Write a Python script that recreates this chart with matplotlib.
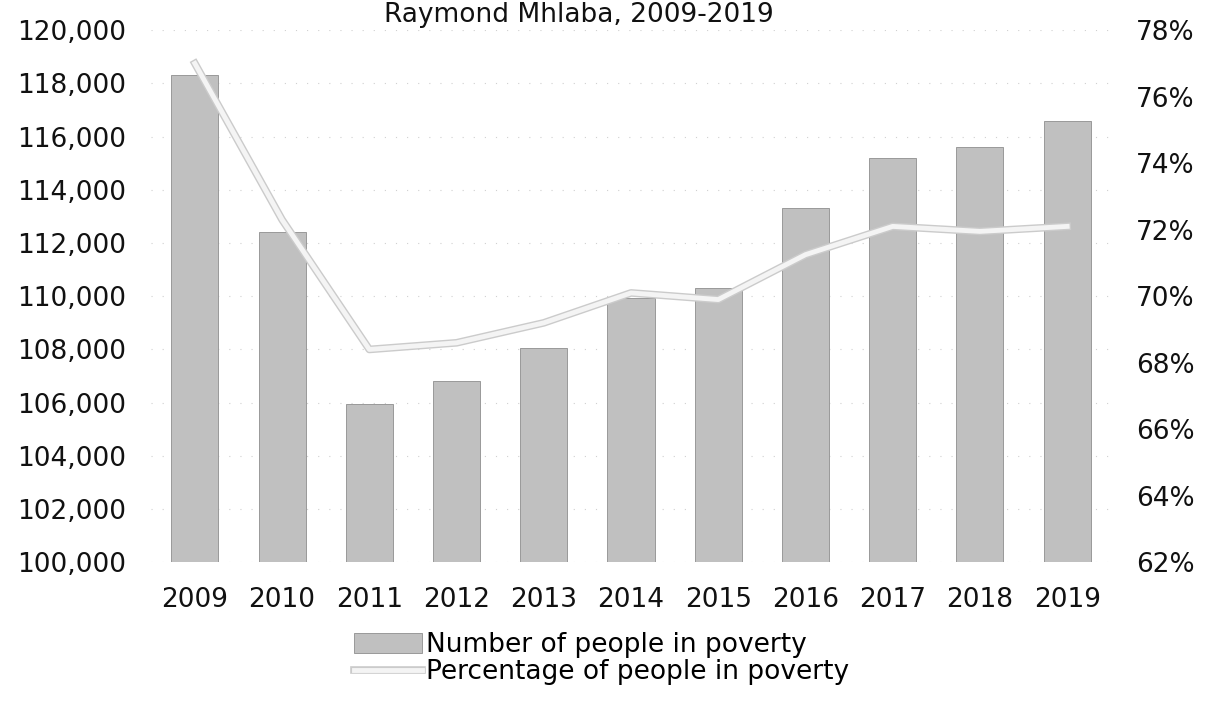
import matplotlib.pyplot as plt
import matplotlib.patheffects as pe
from matplotlib.ticker import FuncFormatter

# poverty figures for Raymond Mhlaba, 2009-2019
years = ["2009", "2010", "2011", "2012", "2013", "2014",
         "2015", "2016", "2017", "2018", "2019"]
people_in_poverty = [118300, 112400, 105950, 106800, 108050, 109950,
                     110300, 113300, 115200, 115600, 116600]
pct_in_poverty = [77.0, 72.3, 68.4, 68.6, 69.2, 70.1,
                  69.9, 71.25, 72.1, 71.95, 72.1]

TITLE = "Raymond Mhlaba, 2009-2019"
BAR_LABEL = "Number of people in poverty"
LINE_LABEL = "Percentage of people in poverty"

FONT_SIZE = 19


def plot_poverty(out_file):
    fig = plt.figure(figsize=(12.1, 7.02), dpi=100)
    ax = fig.add_axes([0.125, 0.199, 0.793, 0.758])
    ax2 = ax.twinx()

    x = list(range(len(years)))

    ax.set_ylim(100000, 120000)
    ax.set_yticks(range(100000, 120001, 2000))
    ax.yaxis.set_major_formatter(FuncFormatter(lambda v, p: f"{int(v):,}"))
    ax.grid(axis="y", color="#d0d0d0", linestyle=(0, (1, 9)), linewidth=0.8)
    ax.set_axisbelow(True)

    bars = ax.bar(x, [v - 100000 for v in people_in_poverty], bottom=100000,
                  width=0.54, color="#c0c0c0", edgecolor="#999999",
                  linewidth=0.7, label=BAR_LABEL, zorder=2)

    line, = ax2.plot(x, pct_in_poverty, color="#f4f4f4", linewidth=3.5,
                     label=LINE_LABEL, zorder=3,
                     path_effects=[pe.Stroke(linewidth=5.5, foreground="#cbcbcb"),
                                   pe.Normal()])
    ax2.set_ylim(62, 78)
    ax2.set_yticks(range(62, 79, 2))
    ax2.yaxis.set_major_formatter(FuncFormatter(lambda v, p: f"{int(v)}%"))

    ax.set_xlim(-0.5, len(years) - 0.5)
    ax.set_xticks(x)
    ax.set_xticklabels(years)

    for a in (ax, ax2):
        for s in a.spines.values():
            s.set_visible(False)
        a.tick_params(length=0, labelsize=FONT_SIZE, pad=18, colors="#111111")

    fig.text(0.478, 1 - 22 / 702, TITLE, ha="center", va="baseline",
             fontsize=FONT_SIZE, color="#111111")

    fig.legend([bars, line], [BAR_LABEL, LINE_LABEL],
               loc="center", bbox_to_anchor=(0.497, 0.062), ncol=1,
               frameon=False, fontsize=FONT_SIZE, handlelength=2.6,
               handleheight=0.8, handletextpad=0.15, labelspacing=0.05,
               borderpad=0)

    fig.savefig(out_file, dpi=100)
    print(f"Saved: {out_file}")
    plt.close(fig)


if __name__ == "__main__":
    plot_poverty("out.png")
